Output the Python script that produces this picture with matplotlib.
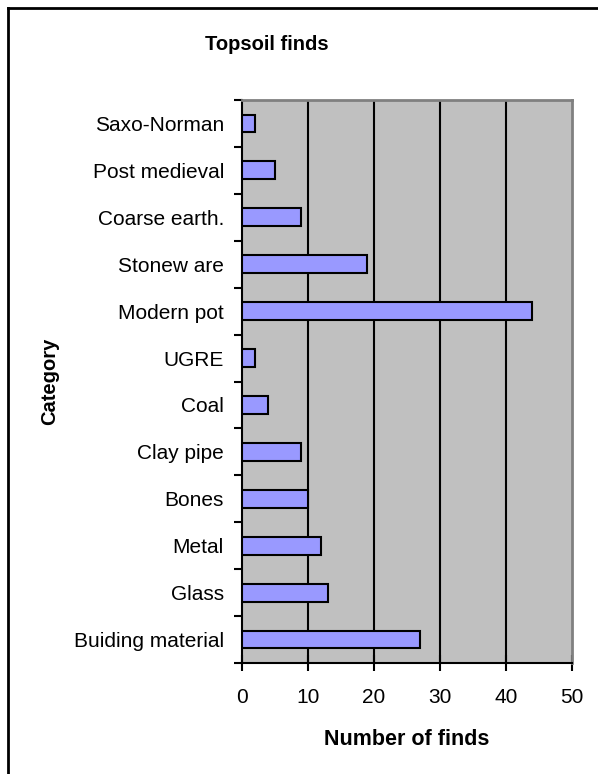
import matplotlib
matplotlib.use("Agg")
import matplotlib.pyplot as plt
from matplotlib.lines import Line2D

categories = ["Buiding material", "Glass", "Metal", "Bones", "Clay pipe", "Coal",
              "UGRE", "Modern pot", "Stonew are", "Coarse earth.", "Post medieval",
              "Saxo-Norman"]
finds = [27, 13, 12, 10, 9, 4, 2, 44, 19, 9, 5, 2]
x_ticks = [0, 10, 20, 30, 40, 50]

plt.rcParams["font.family"] = ["Liberation Sans", "DejaVu Sans"]

fig = plt.figure(figsize=(5.98, 7.74), dpi=100)
ax = fig.add_axes([242 / 598, 1 - 663 / 774, 330 / 598, 563 / 774])

ax.set_facecolor("#C0C0C0")
ypos = range(len(categories))
ax.barh(ypos, finds, height=0.38, color="#9999FF", edgecolor="black",
        linewidth=1.5, zorder=3)

ax.set_xlim(0, 50)
ax.set_ylim(-0.5, len(categories) - 0.5)
ax.set_xticks(x_ticks)
ax.set_xticklabels([str(t) for t in x_ticks], fontsize=15)
ax.set_yticks(list(ypos))
ax.set_yticklabels(categories, fontsize=15)

# vertical gridlines
for t in x_ticks[1:-1]:
    ax.axvline(t, color="black", linewidth=1.5, zorder=2)

# tick marks on category boundaries (y) and crossing ticks (x)
ax.tick_params(axis="y", which="major", length=0, pad=13)
ax.set_yticks([i - 0.5 for i in range(len(categories) + 1)], minor=True)
ax.tick_params(axis="y", which="minor", length=6, width=1.5, direction="out")
ax.tick_params(axis="x", which="major", length=12, width=1.5, direction="inout", pad=12)

for side in ["top", "right"]:
    ax.spines[side].set_color("#808080")
    ax.spines[side].set_linewidth(2)
ax.spines["left"].set_color("black")
ax.spines["left"].set_linewidth(1.5)
ax.spines["bottom"].set_color("black")
ax.spines["bottom"].set_linewidth(1.5)

ax.set_xlabel("Number of finds", fontsize=15.5, fontweight="bold", labelpad=16)
fig.text(50 / 598, 1 - 381 / 774, "Category", fontsize=14.5, fontweight="bold",
         rotation=90, ha="center", va="center")
fig.text(267 / 598, 1 - 45 / 774, "Topsoil finds", fontsize=14.5, fontweight="bold",
         ha="center", va="center")

# chart frame
fig.add_artist(Line2D([8 / 598, 8 / 598], [0, 1 - 8 / 774], color="black",
                      linewidth=2, transform=fig.transFigure))
fig.add_artist(Line2D([8 / 598, 1], [1 - 8 / 774, 1 - 8 / 774], color="black",
                      linewidth=2, transform=fig.transFigure))

fig.savefig("out.png", dpi=100, facecolor="white")
